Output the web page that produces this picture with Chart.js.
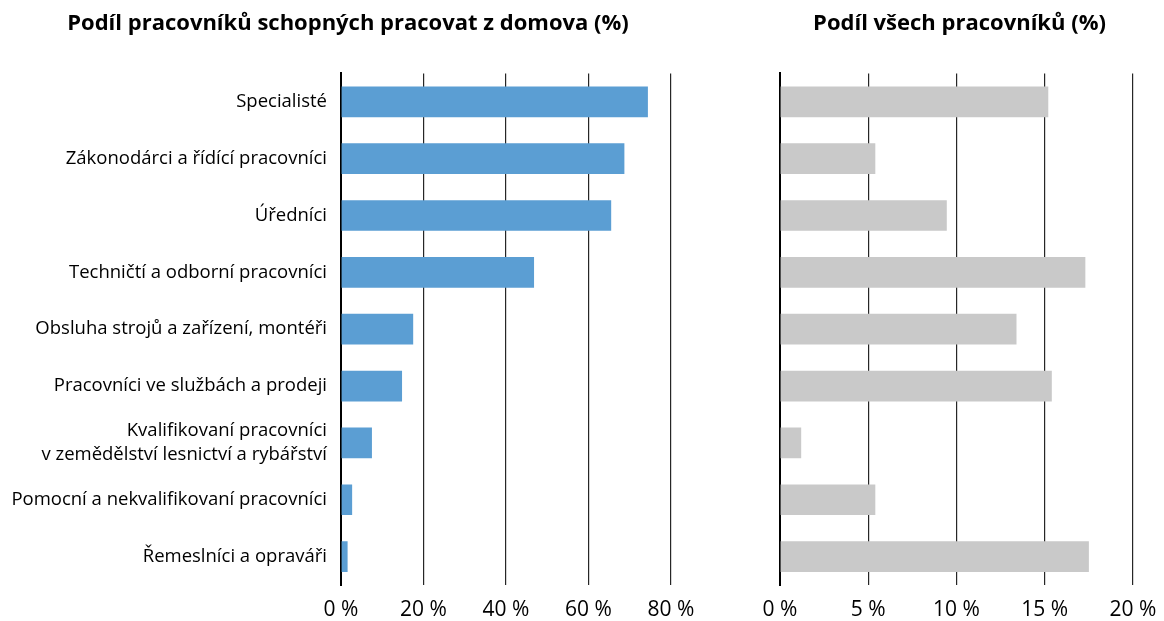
<!DOCTYPE html>
<html>
<head>
<meta charset="utf-8">
<script src="https://cdn.jsdelivr.net/npm/chart.js@4"></script>
<style>
  body { margin: 0; background: #fff; }
  #wrap { position: relative; width: 1164px; height: 621px; }
  #left { position: absolute; left: 0; top: 0; }
  #right { position: absolute; left: 700px; top: 0; }
</style>
</head>
<body>
<div id="wrap">
  <canvas id="left" width="700" height="621"></canvas>
  <canvas id="right" width="464" height="621"></canvas>
</div>
<script>
// categories (top to bottom)
const categories = [
  'Specialisté',
  'Zákonodárci a řídící pracovníci',
  'Úředníci',
  'Techničtí a odborní pracovníci',
  'Obsluha strojů a zařízení, montéři',
  'Pracovníci ve službách a prodeji',
  ['Kvalifikovaní pracovníci', 'v zemědělství lesnictví a rybářství'],
  'Pomocní a nekvalifikovaní pracovníci',
  'Řemeslníci a opraváři'
];
// % of workers able to work from home
const homeShare = [74.4, 68.7, 65.5, 46.8, 17.5, 14.8, 7.5, 2.7, 1.6];
// % of all workers
const workerShare = [15.2, 5.4, 9.45, 17.3, 13.4, 15.4, 1.2, 5.4, 17.5];

const leftTicks = [0, 20, 40, 60, 80];
const rightTicks = [0, 5, 10, 15, 20];

const font = "'Open Sans', 'DejaVu Sans', sans-serif";
Chart.defaults.font.family = font;
Chart.defaults.color = '#000';
Chart.defaults.animation = false;

// nudge the title box so the text sits where the original has it
const titleShift = {
  id: 'titleShift',
  afterLayout(chart, args, opts) {
    if (chart.titleBlock) chart.titleBlock.left += opts.left || 0;
  }
};

function makeChart(id, values, color, ticks, title, showLabels) {
  const ctx = document.getElementById(id).getContext('2d');
  return new Chart(ctx, {
    type: 'bar',
    data: {
      labels: categories,
      datasets: [{
        data: values,
        backgroundColor: color,
        borderWidth: 0,
        categoryPercentage: 0.54,
        barPercentage: 1
      }]
    },
    plugins: [titleShift],
    options: {
      indexAxis: 'y',
      responsive: false,
      layout: { padding: { left: 0, right: showLabels ? 29 : 31, top: 0, bottom: 0 } },
      plugins: {
        legend: { display: false },
        tooltip: { enabled: false },
        titleShift: { left: showLabels ? 25 : 6 },
        title: {
          display: true,
          text: title,
          fullSize: showLabels,
          font: { size: 22, weight: 'bold', lineHeight: 1.2 },
          color: '#000',
          padding: { top: 11, bottom: 36 }
        }
      },
      scales: {
        x: {
          min: ticks[0],
          max: ticks[ticks.length - 1],
          afterBuildTicks: s => { s.ticks = ticks.map(v => ({ value: v })); },
          afterFit: s => { s.paddingLeft = 0; s.paddingRight = 0; s.height = 36; },
          grid: { color: '#262626', lineWidth: 1.2, drawTicks: false },
          border: { display: false },
          ticks: {
            padding: 13,
            font: { size: 21, lineHeight: 1.1 },
            callback: v => v + ' %'
          }
        },
        y: {
          grid: { display: false },
          border: { display: true, color: '#000', width: 2 },
          afterFit: s => {
            s.width = showLabels ? 341 : 80;
            s.paddingTop = 0;
            s.paddingBottom = 0;
          },
          ticks: {
            display: showLabels,
            padding: 6,
            font: { size: 18.5, lineHeight: 1.3 }
          }
        }
      }
    }
  });
}

makeChart('left', homeShare, '#5B9ED3', leftTicks,
  'Podíl pracovníků schopných pracovat z domova (%)', true);
makeChart('right', workerShare, '#C9C9C9', rightTicks,
  'Podíl všech pracovníků (%)', false);
</script>
</body>
</html>
